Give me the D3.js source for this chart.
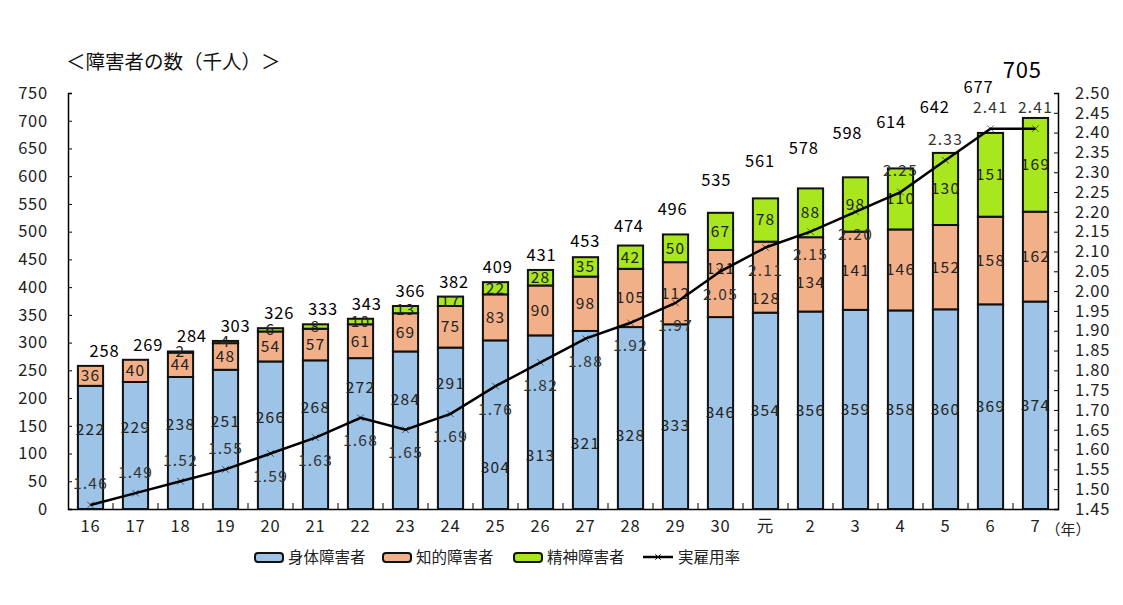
<!DOCTYPE html>
<html>
<head>
<meta charset="utf-8">
<script src="https://cdn.jsdelivr.net/npm/d3@7"></script>
<style>
  body { margin: 0; background: #fff; }
  text { font-family: "Noto Sans CJK JP", "DejaVu Sans", sans-serif; }
</style>
</head>
<body>
<div id="wrapper"></div>
<script>
// data
const years = ["16","17","18","19","20","21","22","23","24","25","26","27","28","29","30","元","2","3","4","5","6","7"]
const physical = [222,229,238,251,266,268,272,284,291,304,313,321,328,333,346,354,356,359,358,360,369,374]
const intellectual = [36,40,44,48,54,57,61,69,75,83,90,98,105,112,121,128,134,141,146,152,158,162]
const mental = [0,0,2,4,6,8,10,13,17,22,28,35,42,50,67,78,88,98,110,130,151,169]
const totals = [258,269,284,303,326,333,343,366,382,409,431,453,474,496,535,561,578,598,614,642,677,705]
const rates = [1.46,1.49,1.52,1.55,1.59,1.63,1.68,1.65,1.69,1.76,1.82,1.88,1.92,1.97,2.05,2.11,2.15,2.20,2.25,2.33,2.41,2.41]
const leftTicks = d3.range(0, 751, 50)
const rightTicks = d3.range(145, 251, 5).map(d => d / 100)
const seriesNames = ["身体障害者", "知的障害者", "精神障害者"]
const lineName = "実雇用率"

function drawChart() {
  const width = 1123, height = 605
  const colors = ["#9DC3E6", "#F2B088", "#A8E61D"]

  const svg = d3.select("#wrapper").append("svg")
    .attr("width", width).attr("height", height)

  const rows = years.map((y, i) => ({ year: y, s0: physical[i], s1: intellectual[i], s2: mental[i] }))
  const stacked = d3.stack().keys(["s0", "s1", "s2"])(rows)

  // scales
  const x = d3.scaleBand().domain(years).range([68, 1058]).paddingInner(0.44).paddingOuter(0.22)
  const y = d3.scaleLinear().domain([0, 750]).range([509, 93])
  const yr = d3.scaleLinear().domain([1.45, 2.5]).range([509, 93])
  const cx = i => x(years[i]) + x.bandwidth() / 2

  // title
  svg.append("text").attr("x", 66).attr("y", 69)
    .attr("font-size", 19.5).attr("fill", "#111")
    .text("＜障害者の数（千人）＞")

  // axes
  const leftAxis = svg.append("g").attr("transform", "translate(68,0)")
    .call(d3.axisLeft(y).tickValues(leftTicks).tickSize(-4).tickPadding(22))
  const rightAxis = svg.append("g").attr("transform", "translate(1058,0)")
    .call(d3.axisRight(yr).tickValues(rightTicks).tickSize(-4).tickPadding(17).tickFormat(d3.format(".2f")))
  const xAxis = svg.append("g").attr("transform", "translate(0,509)")
    .call(d3.axisBottom(x).tickSize(0).tickPadding(11))
  ;[leftAxis, rightAxis, xAxis].forEach(a => {
    a.select(".domain").attr("stroke", "#000").attr("stroke-width", 1.5)
    a.selectAll(".tick line").attr("stroke", "#000")
    a.selectAll("text").attr("font-size", 16.5).attr("fill", "#222")
      .attr("letter-spacing", 0.8)
      .style("font-family", "'Noto Sans CJK JP', sans-serif")
  })
  leftAxis.selectAll("text").attr("text-anchor", "end").attr("x", -20)
  xAxis.selectAll("text").attr("dy", "0.75em")

  // x ticks between categories (pointing up)
  svg.append("g").selectAll("line")
    .data(years.slice(1))
    .join("line")
    .attr("x1", d => x(d) - x.step() * x.paddingInner() / 2)
    .attr("x2", d => x(d) - x.step() * x.paddingInner() / 2)
    .attr("y1", 509).attr("y2", 503)
    .attr("stroke", "#000")

  svg.append("text")
    .attr("x", cx(years.length - 1) + 10).attr("y", 535)
    .attr("font-size", 15).attr("fill", "#222").text("（年）")

  // bars
  const layers = svg.append("g").selectAll("g")
    .data(stacked).join("g").attr("fill", (d, i) => colors[i])

  layers.selectAll("rect")
    .data(d => d.filter(p => p[1] > p[0]))
    .join("rect")
    .attr("x", d => x(d.data.year))
    .attr("width", x.bandwidth())
    .attr("y", d => y(d[1]))
    .attr("height", d => y(d[0]) - y(d[1]))
    .attr("stroke", "#111").attr("stroke-width", 2)

  // rate label position (above the marker at both ends, below in the middle)
  const rateAbove = i => i < 4 || i >= 18
  const rateLabelY = i => yr(rates[i]) + (rateAbove(i) ? -21 : 23)

  // segment labels; moved off the rate line and its labels
  const segY = (d, k) => {
    const c = (y(d[0]) + y(d[1])) / 2
    const i = years.indexOf(d.data.year)
    const m = yr(rates[i])
    const rl = rateLabelY(i)
    if (k === 1) {
      if (Math.abs(c - rl) < 24) return c >= rl ? rl + 28 : rl - 26
      return c
    }
    if (k === 2) return c
    if (m > c - 25) return Math.min(c - 18, m - 30)
    return Math.max(c, (rl + y(0)) / 2 + 8)
  }
  layers.each(function (layer, k) {
    d3.select(this).selectAll("text")
      .data(layer.filter(p => p[1] > p[0]))
      .join("text")
      .attr("x", d => x(d.data.year) + x.bandwidth() / 2)
      .attr("y", d => segY(d, k))
      .attr("dy", "0.35em")
      .attr("text-anchor", "middle")
      .attr("font-size", 15.5).attr("letter-spacing", 1.2).attr("fill", "#222")
      .text(d => d[1] - d[0])
  })

  // totals
  svg.append("g").selectAll("text")
    .data(totals)
    .join("text")
    .attr("x", (d, i) => cx(i) + 14 - 1.3 * i)
    .attr("y", d => y(d) - Math.max(9, Math.min(40, 10 + (d - 450) * 0.19)))
    .attr("text-anchor", "middle")
    .attr("font-size", (d, i) => i === totals.length - 1 ? 22 : 16.5)
    .attr("letter-spacing", 0.8)
    .attr("fill", "#000")
    .text(d => d)

  // rate line
  const line = d3.line()
    .x((d, i) => cx(i))
    .y(d => yr(d))
  svg.append("path").datum(rates)
    .attr("d", line).attr("fill", "none")
    .attr("stroke", "#000").attr("stroke-width", 2.5)

  const star = d3.symbol().type(d3.symbolTimes).size(30)
  svg.append("g").selectAll("path")
    .data(rates)
    .join("path")
    .attr("d", star)
    .attr("transform", (d, i) => `translate(${cx(i)},${yr(d)})`)
    .attr("fill", "#000").attr("stroke", "#000").attr("stroke-width", 0.6)

  svg.append("g").selectAll("text")
    .data(rates)
    .join("text")
    .attr("x", (d, i) => cx(i))
    .attr("y", (d, i) => rateLabelY(i))
    .attr("dy", "0.35em")
    .attr("text-anchor", "middle")
    .attr("font-size", 15.5).attr("letter-spacing", 1.2).attr("fill", "#333")
    .text(d => d3.format(".2f")(d))

  // legend
  const legend = svg.append("g").attr("transform", "translate(255,557)")
  const legendX = [0, 128, 259]
  seriesNames.forEach((name, i) => {
    const g = legend.append("g").attr("transform", `translate(${legendX[i]},0)`)
    g.append("rect").attr("x", 0).attr("y", -4).attr("width", 28).attr("height", 9)
      .attr("rx", 3).attr("fill", colors[i]).attr("stroke", "#111").attr("stroke-width", 2)
    g.append("text").attr("x", 33).attr("y", 0).attr("dy", "0.36em")
      .attr("font-size", 15.5).attr("fill", "#222").text(name)
  })
  const lg = legend.append("g").attr("transform", "translate(388,0)")
  lg.append("line").attr("x1", 0).attr("x2", 30).attr("y1", 0).attr("y2", 0)
    .attr("stroke", "#000").attr("stroke-width", 2.5)
  lg.append("path").attr("d", d3.symbol().type(d3.symbolTimes).size(20))
    .attr("transform", "translate(15,0)").attr("stroke", "#000")
  lg.append("text").attr("x", 35).attr("y", 0).attr("dy", "0.36em")
    .attr("font-size", 15.5).attr("fill", "#222").text(lineName)
}

drawChart()
</script>
</body>
</html>
